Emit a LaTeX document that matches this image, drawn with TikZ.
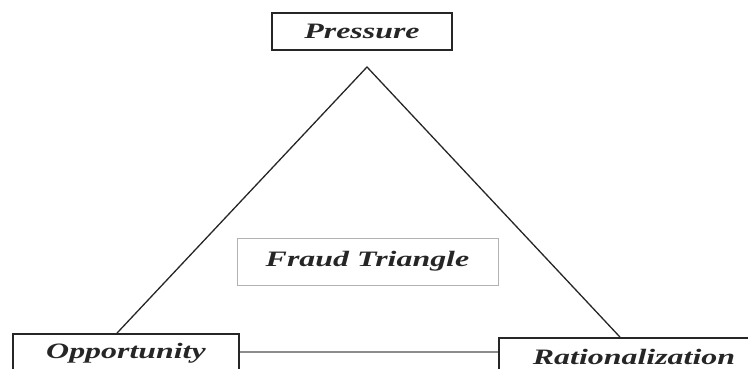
\documentclass[tikz,border=0pt]{standalone}
\usepackage{fontspec}
\setmainfont{Liberation Serif}
\usetikzlibrary{positioning}
\tikzset{
  box/.style={draw=black!85, line width=1.8pt, inner sep=0pt, minimum height=37pt,
    font=\fontsize{22}{24}\selectfont\bfseries\itshape, text=black!85},
  titlebox/.style={box, draw=black!30, line width=1pt, minimum height=47pt}
}
\newcommand{\wide}[1]{\scalebox{1.45}[1]{#1}}
\begin{document}
\begin{tikzpicture}[x=1pt, y=-1pt]
        \useasboundingbox (0,0) rectangle (748,369);
        \clip (0,0) rectangle (748,369);
        \node[box, minimum width=180pt] (pres) at (362,31.5) {\wide{Pressure}};
        \node[box, minimum width=226pt, minimum height=38pt] (opp) at (126,353) {\wide{Opportunity}};
        \node[box, minimum width=270pt, minimum height=38pt] (rat) at (634,357) {\wide{Rationalization}};
        \node[titlebox, minimum width=261pt] (fraud) at (367.5,261.5) {\wide{Fraud Triangle}};
        \coordinate (apex) at (367,67);
        % Now the sides of the triangle
        \draw[line width=1.3pt, black!85] ([xshift=-9pt]opp.north) -- (apex) -- ([xshift=-14pt]rat.north);
        \draw[line width=2.5pt, black!45] ([yshift=1pt]opp.east) -- ([yshift=1pt]rat.west |- opp.east);
    \end{tikzpicture}
\end{document}
